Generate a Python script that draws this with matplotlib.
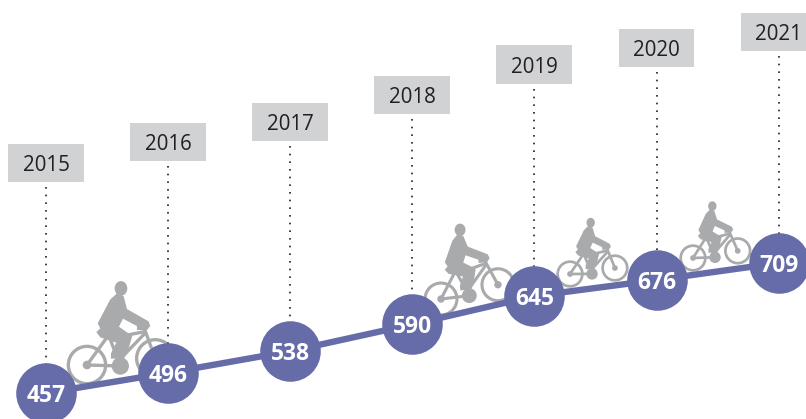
import matplotlib
matplotlib.use('Agg')
import matplotlib.pyplot as plt
import numpy as np
from matplotlib.patches import Polygon, Ellipse, Circle

years = [2015, 2016, 2017, 2018, 2019, 2020, 2021]
values = [457, 496, 538, 590, 645, 676, 709]

# box centre of each year label (pixels from top)
box_y = [163, 142, 122, 95, 64.5, 48, 32]

# rear wheel x, y, size, tilt in degrees of each rider
riders = [(87, 365, 0.333, 0), (441, 299, 0.285, -8.5), (570, 274, 0.22, -2), (693, 258, 0.22, -3.5)]

blue = '#656ca8'
grey = '#a9aaac'
box = '#d1d2d3'

plt.rcParams['font.family'] = ['Open Sans', 'DejaVu Sans']

PX = 122.1  # pixels per year
PY = 0.516  # pixels per unit


def draw_rider(a, rx, ry, scale, tilt):
    # shape traced from the big rider in the 3x zoom
    ang = np.radians(tilt)
    c, s = np.cos(ang), np.sin(ang)
    ring = 10 * np.sqrt(scale * 0.333) * 0.72

    def tr(p):
        p = np.atleast_2d(p) - [260, 315]
        return np.c_[rx + scale * (c * p[:, 0] - s * p[:, 1]), ry + scale * (s * p[:, 0] + c * p[:, 1])]

    for wx, wy in [(260, 315), (465, 295)]:
        a.add_patch(Circle(tr((wx, wy))[0], 56 * scale, fc='none', ec=grey, lw=ring))
    a.add_patch(Circle(tr((260, 315))[0], 13 * scale, fc=grey, ec='none'))
    a.add_patch(Circle(tr((465, 295))[0], 13 * scale, fc=grey, ec='none'))
    a.add_patch(Circle(tr((360, 318))[0], 26 * scale, fc=grey, ec='none'))

    frame = [[(260, 315), (360, 318)], [(260, 315), (325, 225)], [(325, 225), (360, 318)],
             [(330, 235), (432, 215)], [(432, 222), (352, 305)], [(432, 205), (465, 295)]]
    for seg in frame:
        p = tr(seg)
        a.plot(p[:, 0], p[:, 1], color=grey, lw=ring, solid_capstyle='round')

    body = [(330, 118), (350, 100), (370, 108), (380, 147), (445, 184), (450, 198), (440, 210),
            (410, 210), (410, 198), (368, 176), (356, 200), (396, 228), (385, 265), (372, 295),
            (332, 296), (332, 280), (348, 248), (300, 232), (288, 216), (300, 205), (292, 190)]
    a.add_patch(Polygon(tr(body), closed=True, fc=grey, ec='none'))

    a.add_patch(Ellipse(tr((362, 85))[0], 38 * scale, 44 * scale, fc=grey, ec='none'))


fig = plt.figure(figsize=(8.06, 4.19), dpi=100)

bg = fig.add_axes([0, 0, 1, 1])
bg.set_xlim(0, 806)
bg.set_ylim(419, 0)
bg.axis('off')
for r in riders:
    draw_rider(bg, *r)

ax = fig.add_axes([0, 0, 1, 1])
ax.patch.set_alpha(0)
ax.set_xlim(2015 - 46 / PX, 2015 + 760 / PX)
ax.set_ylim(457 - 26 / PY, 457 + 393 / PY)
ax.axis('off')

box_h = 38 / PY
gap = 5 / PY

for yr, v, by in zip(years, values, box_y):
    mid = 457 + (393 - by) / PY
    ax.bar(yr, box_h, bottom=mid - box_h / 2, width=76 / PX, color=box, zorder=1)
    ax.text(yr, mid, str(yr), ha='center', va='center_baseline', fontsize=14.8, color='#231f20', zorder=2)
    # drawn from the box downwards so the first dot sits under the box
    ax.plot([yr, yr], [mid - box_h / 2 - gap, v], color='#231f20', lw=1.2,
            linestyle=(0, (1, 3.6)), zorder=2)

ax.plot(years, values, color=blue, lw=4.6, zorder=3)
ax.scatter(years, values, s=1900, color=blue, linewidths=0, zorder=4)
for yr, v in zip(years, values):
    ax.text(yr, v, str(v), ha='center', va='center_baseline', fontsize=16.5, fontweight='bold', color='white', zorder=5)

plt.savefig('out.png', dpi=100)
